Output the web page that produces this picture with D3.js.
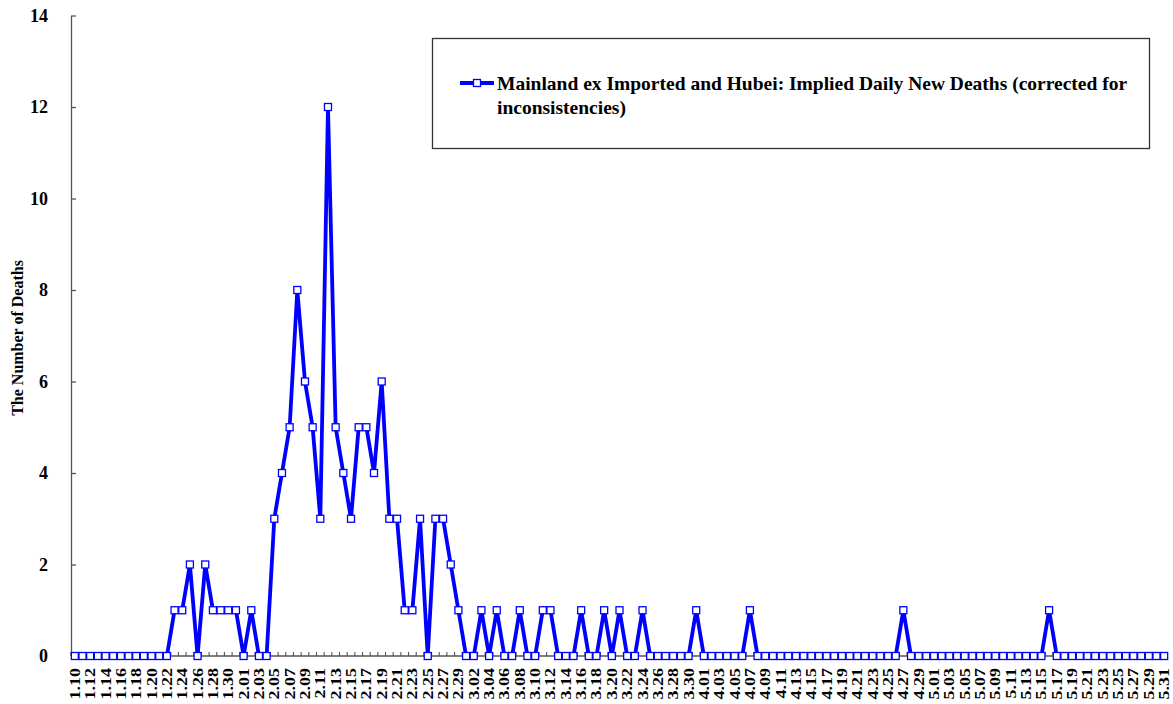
<!DOCTYPE html>
<html>
<head>
<meta charset="utf-8">
<script src="https://cdn.jsdelivr.net/npm/d3@7"></script>
<style>
  body { margin: 0; background: #fff; }
  text { font-family: "Liberation Serif", "Times New Roman", serif; font-weight: bold; }
</style>
</head>
<body>
<svg width="1173" height="704"></svg>
<script>
const svg = d3.select('svg');

// daily new deaths, Jan 10 - May 31 2020
const janValues = [0,0,0,0,0,0,0,0,0,0,0,0,0,1,1,2,0,2,1,1,1,1];
const febValues = [0,1,0,0,3,4,5,8,6,5,3,12,5,4,3,5,5,4,6,3,3,1,1,3,0,3,3,2,1];
const marValues = [0,0,1,0,1,0,0,1,0,0,1,1,0,0,0,1,0,0,1,0,1,0,0,1,0,0,0,0,0,0,1];
const aprValues = [0,0,0,0,0,0,1,0,0,0,0,0,0,0,0,0,0,0,0,0,0,0,0,0,0,0,1,0,0,0];
const mayValues = [0,0,0,0,0,0,0,0,0,0,0,0,0,0,0,1,0,0,0,0,0,0,0,0,0,0,0,0,0,0,0];
const yTicks = [0, 2, 4, 6, 8, 10, 12, 14];
const seriesName = ['Mainland ex Imported and Hubei: Implied Daily New Deaths (corrected for', 'inconsistencies)'];

const values = [].concat(janValues, febValues, marValues, aprValues, mayValues);
const fmt = d3.timeFormat('%-m.%d');
const dates = d3.timeDay.range(new Date(2020, 0, 10), new Date(2020, 5, 1)).map(fmt);
const data = dates.map((d, i) => ({ date: d, value: values[i] }));

const plotLeft = 71;
const plotRight = 1168;
const plotTop = 15.5;
const plotBottom = 656;
const blue = '#0000ff';
const axisColor = '#555';

const x = d3.scaleBand()
    .domain(dates)
    .range([plotLeft, plotRight]);

const y = d3.scaleLinear()
    .domain([0, 14])
    .range([plotBottom, plotTop]);

// y axis
const yAxis = svg.append('g')
    .attr('transform', `translate(${plotLeft},0)`)
    .call(d3.axisLeft(y).tickValues(yTicks).tickSize(-5).tickPadding(23).tickSizeOuter(0));
yAxis.select('.domain').attr('stroke', axisColor).attr('stroke-width', 1.3);
yAxis.selectAll('.tick line').attr('stroke', axisColor).attr('stroke-width', 1.3);
yAxis.selectAll('.tick text')
    .attr('font-size', 18)
    .attr('font-family', '"Liberation Serif", serif')
    .attr('font-weight', 'bold')
    .attr('fill', '#000');

// x axis: ticks at band boundaries
const xAxis = svg.append('g');
xAxis.append('line')
    .attr('x1', plotLeft).attr('x2', plotRight)
    .attr('y1', plotBottom).attr('y2', plotBottom)
    .attr('stroke', axisColor).attr('stroke-width', 1.3);
xAxis.selectAll('.xtick')
    .data(dates)
    .enter().append('line')
    .attr('x1', d => x(d)).attr('x2', d => x(d))
    .attr('y1', plotBottom).attr('y2', plotBottom - 4)
    .attr('stroke', axisColor).attr('stroke-width', 1.1);

// labels are squeezed sideways a bit like the original
xAxis.selectAll('.xlabel')
    .data(dates.filter((d, i) => i % 2 === 0))
    .enter().append('text')
    .attr('transform', d => `translate(${x(d) + x.bandwidth() / 2 + 5},668) rotate(-90) scale(1,0.85)`)
    .attr('text-anchor', 'end')
    .attr('font-size', 18)
    .text(d => d);

// y title
svg.append('text')
    .attr('transform', 'translate(23,338) rotate(-90)')
    .attr('text-anchor', 'middle')
    .attr('font-size', 16)
    .text('The Number of Deaths');

// series
const line = d3.line()
    .x(d => x(d.date) + x.bandwidth() / 2)
    .y(d => y(d.value));

svg.append('path')
    .datum(data)
    .attr('d', line)
    .attr('fill', 'none')
    .attr('stroke', blue)
    .attr('stroke-width', 3.8)
    .attr('stroke-linejoin', 'miter');

svg.selectAll('.marker')
    .data(data)
    .enter().append('rect')
    .attr('x', d => x(d.date) + x.bandwidth() / 2 - 3.5)
    .attr('y', d => y(d.value) - 3.5)
    .attr('width', 7)
    .attr('height', 7)
    .attr('fill', '#fff')
    .attr('stroke', blue)
    .attr('stroke-width', 1.3);

// legend
const legend = svg.append('g');
legend.append('rect')
    .attr('x', 432.5).attr('y', 38.5)
    .attr('width', 717).attr('height', 110)
    .attr('fill', '#fff')
    .attr('stroke', '#333')
    .attr('stroke-width', 1.3);
legend.append('line')
    .attr('x1', 460).attr('x2', 494)
    .attr('y1', 83).attr('y2', 83)
    .attr('stroke', blue).attr('stroke-width', 3.8);
legend.append('rect')
    .attr('x', 473.5).attr('y', 79.5)
    .attr('width', 7).attr('height', 7)
    .attr('fill', '#fff')
    .attr('stroke', blue).attr('stroke-width', 1.3);
legend.selectAll('.legend-text')
    .data(seriesName)
    .enter().append('text')
    .attr('x', 497)
    .attr('y', (d, i) => 90 + i * 24)
    .attr('font-size', 19.5)
    .text(d => d);
</script>
</body>
</html>
